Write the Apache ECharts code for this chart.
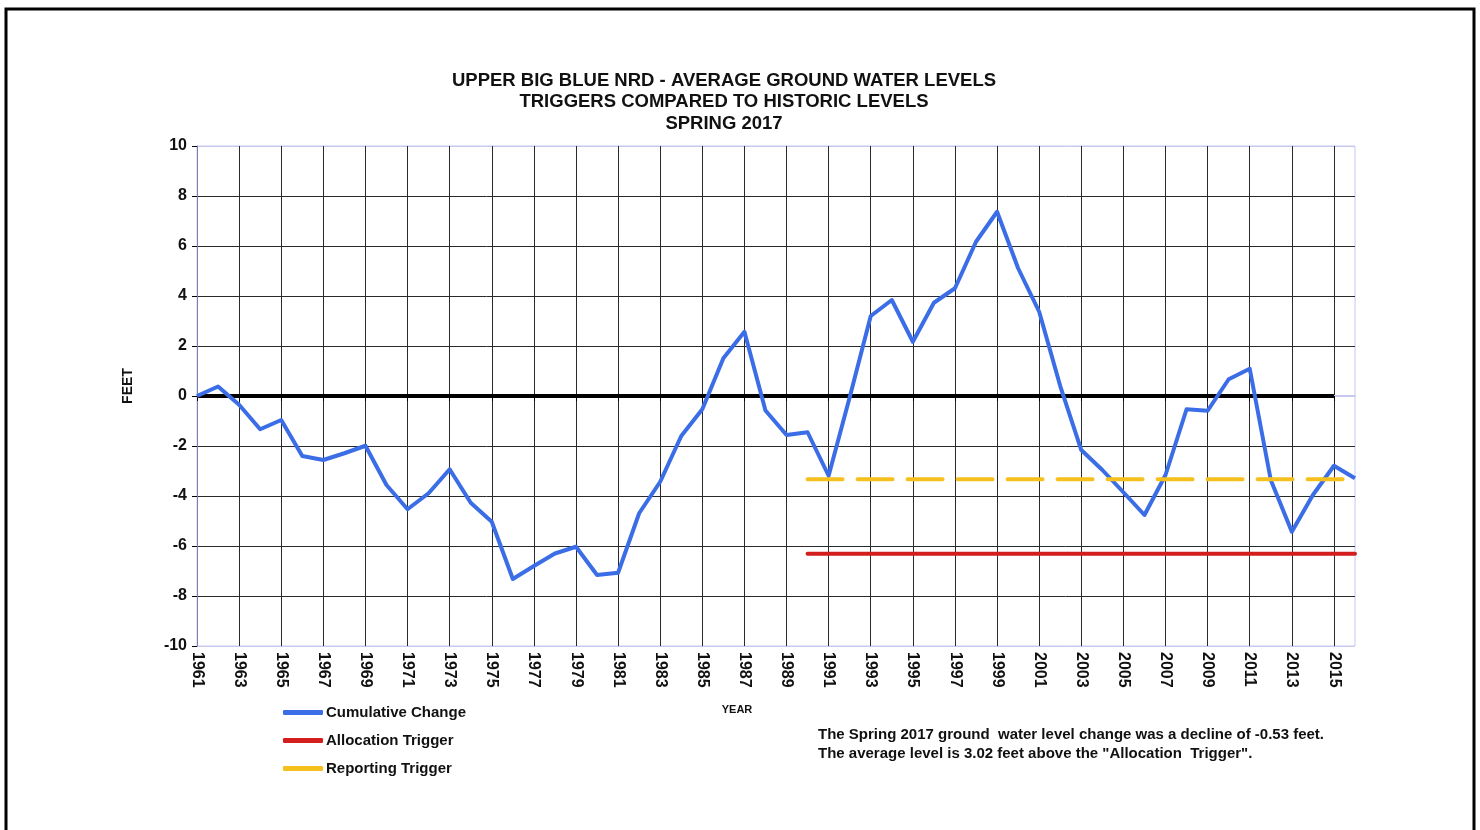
<!DOCTYPE html>
<html>
<head>
<meta charset="utf-8">
<script src="https://cdn.jsdelivr.net/npm/echarts@6/dist/echarts.min.js"></script>
<style>
html,body{margin:0;padding:0;background:#fff;}
#chart{width:1480px;height:830px;}
</style>
</head>
<body>
<div id="chart"></div>
<script>
// ---- data ----
const years = [1961,1962,1963,1964,1965,1966,1967,1968,1969,1970,1971,1972,1973,1974,1975,1976,1977,1978,1979,1980,
  1981,1982,1983,1984,1985,1986,1987,1988,1989,1990,1991,1992,1993,1994,1995,1996,1997,1998,1999,2000,
  2001,2002,2003,2004,2005,2006,2007,2008,2009,2010,2011,2012,2013,2014,2015,2016];
const cumulativeChange = [0.0,0.38,-0.35,-1.33,-0.96,-2.40,-2.56,-2.29,-1.99,-3.56,-4.53,-3.89,-2.93,-4.27,-5.03,-7.32,-6.80,-6.30,-6.03,-7.16,
  -7.07,-4.69,-3.43,-1.60,-0.53,1.51,2.57,-0.58,-1.56,-1.45,-3.19,-0.05,3.20,3.84,2.17,3.73,4.31,6.17,7.37,5.11,
  3.37,0.40,-2.16,-2.96,-3.85,-4.76,-3.16,-0.53,-0.59,0.67,1.09,-3.36,-5.43,-3.96,-2.79,-3.29];
const allocationTrigger = -6.31;
const reportingTrigger = -3.33;
const triggerStartYear = 1990;
const zeroLineEndYear = 2015;
const yTicks = [-10,-8,-6,-4,-2,0,2,4,6,8,10];
const titleLines = ["UPPER BIG BLUE NRD - AVERAGE GROUND WATER LEVELS","TRIGGERS COMPARED TO HISTORIC LEVELS","SPRING 2017"];
const noteLines = ["The Spring 2017 ground  water level change was a decline of -0.53 feet.",
  "The average level is 3.02 feet above the \"Allocation  Trigger\"."];

const cats = years.map(String);
const allocData = years.map(y => y >= triggerStartYear ? allocationTrigger : null);
const reportData = years.map(y => y >= triggerStartYear ? reportingTrigger : null);
const zeroData = years.map(y => y <= zeroLineEndYear ? 0 : null);

const FONT = 'Arial, "Liberation Sans", sans-serif';
const chart = echarts.init(document.getElementById('chart'), null, {renderer:'canvas'});
const lav = '#c8c8f0';
const gridCol = '#2a2a2a';
const splitColors = [lav].concat(Array(yTicks.length - 2).fill(gridCol));

chart.setOption({
  backgroundColor:'#ffffff',
  animation:false,
  grid:{left:197, top:146, right:125, bottom:184, show:true, borderColor:lav, borderWidth:1, backgroundColor:'transparent'},
  xAxis:{
    type:'category', data:cats, boundaryGap:false,
    axisLine:{show:true, lineStyle:{color:lav, width:2}},
    axisTick:{show:true, interval:1, length:5, lineStyle:{color:'#000'}},
    axisLabel:{interval:1, rotate:-90, margin:6, fontFamily:FONT, fontWeight:'bold', fontSize:16, color:'#111'},
    splitLine:{show:true, interval:1, lineStyle:{color:gridCol, width:1}}
  },
  yAxis:{
    type:'value', min:-10, max:10, interval:2,
    axisLine:{show:true, lineStyle:{color:'#8080b0', width:1}},
    axisTick:{show:true, length:5, lineStyle:{color:'#000'}},
    axisLabel:{margin:10, fontFamily:FONT, fontWeight:'bold', fontSize:16, color:'#111'},
    splitLine:{show:true, lineStyle:{color:splitColors, width:1}}
  },
  legend:{
    orient:'vertical', left:278, top:700, itemWidth:40, itemHeight:5, itemGap:13,
    data:[{name:'Cumulative Change', icon:'roundRect'},{name:'Allocation Trigger', icon:'roundRect'},{name:'Reporting Trigger', icon:'roundRect'}],
    textStyle:{fontFamily:FONT, fontWeight:'bold', fontSize:15, color:'#111', lineHeight:15, padding:[0,0,0,-2]}
  },
  series:[
    {name:'Zero', type:'line', data:zeroData, symbol:'none', silent:true, z:2,
     lineStyle:{color:'#000', width:4}, itemStyle:{color:'#000'}},
    {name:'Cumulative Change', type:'line', data:cumulativeChange, symbol:'none', z:3,
     lineStyle:{color:'#3a6de6', width:4, join:'round'}, itemStyle:{color:'#3a6de6'}},
    {name:'Allocation Trigger', type:'line', data:allocData, symbol:'none', z:4,
     lineStyle:{color:'#d41e1e', width:4, cap:'round'}, itemStyle:{color:'#d41e1e'}},
    {name:'Reporting Trigger', type:'line', data:reportData, symbol:'none', z:5,
     lineStyle:{color:'#f5c01e', width:4, type:[35,15], cap:'round'}, itemStyle:{color:'#f5c01e'}}
  ],
  graphic:[
    {type:'rect', shape:{x:6, y:9, width:1468, height:840}, style:{fill:'none', stroke:'#000', lineWidth:3}, silent:true},
    {type:'text', x:724, y:70, style:{text:titleLines.join('\n'), textAlign:'center', fontFamily:FONT, fontWeight:'bold', fontSize:18.5, lineHeight:21.5, fill:'#111'}},
    {type:'text', x:737, y:704, style:{text:'YEAR', textAlign:'center', fontFamily:FONT, fontWeight:'bold', fontSize:11, fill:'#111'}},
    {type:'text', x:128, y:386, rotation:Math.PI/2, style:{text:'FEET', textAlign:'center', textVerticalAlign:'middle', fontFamily:FONT, fontWeight:'bold', fontSize:14, fill:'#111'}},
    {type:'text', x:818, y:725, style:{text:noteLines.join('\n'), fontFamily:FONT, fontWeight:'bold', fontSize:15, lineHeight:19, fill:'#111'}}
  ]
});
</script>
</body>
</html>
